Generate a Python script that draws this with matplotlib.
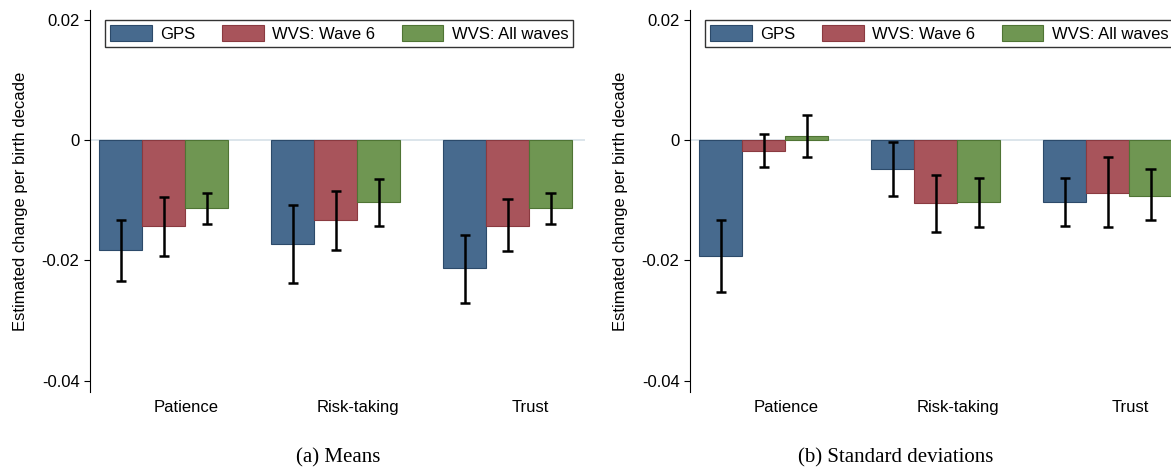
import matplotlib.pyplot as plt
import numpy as np

plt.rcParams['font.family'] = ['Liberation Sans', 'DejaVu Sans']

groups = ["Patience", "Risk-taking", "Trust"]
series = ["GPS", "WVS: Wave 6", "WVS: All waves"]
colors = ["#476a8e", "#a8545b", "#6f9652"]
edges = ["#2c4a6a", "#8a3a40", "#4f7434"]

means = [[-0.0183, -0.0172, -0.0212],
         [-0.0143, -0.0133, -0.0142],
         [-0.0113, -0.0103, -0.0113]]
means_lo = [[-0.0235, -0.0238, -0.0270],
            [-0.0192, -0.0183, -0.0185],
            [-0.0140, -0.0143, -0.0140]]
means_hi = [[-0.0133, -0.0107, -0.0157],
            [-0.0095, -0.0085, -0.0098],
            [-0.0088, -0.0065, -0.0087]]

sds = [[-0.0192, -0.0047, -0.0102],
       [-0.0017, -0.0105, -0.0087],
       [0.0007, -0.0103, -0.0092]]
sds_lo = [[-0.0253, -0.0092, -0.0143],
          [-0.0045, -0.0153, -0.0145],
          [-0.0028, -0.0145, -0.0133]]
sds_hi = [[-0.0132, -0.0002, -0.0062],
          [0.0010, -0.0058, -0.0028],
          [0.0042, -0.0062, -0.0048]]

fig = plt.figure(figsize=(11.71, 4.67), dpi=100)
W, H = 1171, 467


def panel(rect, vals, lo, hi, caption, capx):
    ax = fig.add_axes(rect)
    x = np.arange(len(groups))
    bw = 0.25
    for i in range(3):
        xs = x + (i - 1) * bw
        v = np.array(vals[i])
        ax.bar(xs, v, width=bw, color=colors[i], edgecolor=edges[i], linewidth=0.8,
               label=series[i], zorder=2)
        ax.vlines(xs, lo[i], hi[i], color="black", linewidth=1.8, zorder=3)
        ax.hlines(lo[i], xs - 0.03, xs + 0.03, color="black", linewidth=1.8, zorder=3)
        ax.hlines(hi[i], xs - 0.03, xs + 0.03, color="black", linewidth=1.8, zorder=3)
    ax.axhline(0, color="#d5e0e8", linewidth=1.2, zorder=1)
    ax.set_xlim(-0.43, 2.45)
    ax.set_ylim(-0.0419, 0.0217)
    ax.set_yticks([0.02, 0, -0.02, -0.04])
    ax.set_yticklabels(["0.02", "0", "-0.02", "-0.04"], fontsize=12)
    ax.set_xticks(x + 0.13)
    ax.set_xticklabels(groups, fontsize=12)
    ax.tick_params(axis="x", length=0, pad=6)
    ax.tick_params(axis="y", length=4)
    for s in ["top", "right", "bottom"]:
        ax.spines[s].set_visible(False)
    ax.set_ylabel("Estimated change per birth decade", fontsize=12, labelpad=10)
    leg = ax.legend(loc="upper left", bbox_to_anchor=(0.014, 0.995), ncol=3,
                    fontsize=12, frameon=True, fancybox=False,
                    handlelength=2.5, handleheight=1.1, handletextpad=0.5,
                    borderpad=0.3, columnspacing=1.6)
    leg.get_frame().set_edgecolor("black")
    fig.text(capx / W, 1 - 458 / H, caption, ha="center", va="center",
             fontsize=15, family="Liberation Serif")
    return ax


panel([90 / W, 1 - 392 / H, 495 / W, 382 / H], means, means_lo, means_hi, "(a) Means", 338)
panel([690 / W, 1 - 392 / H, 495 / W, 382 / H], sds, sds_lo, sds_hi, "(b) Standard deviations", 896)

fig.savefig("out.png", dpi=100)
